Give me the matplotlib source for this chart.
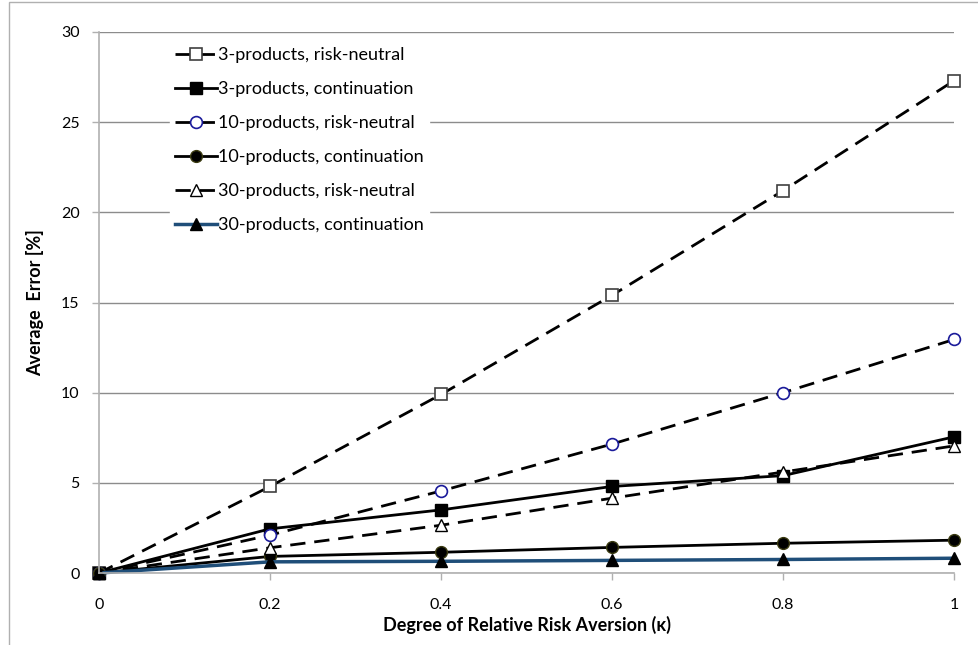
import matplotlib
matplotlib.use('Agg')
import matplotlib.pyplot as plt
from matplotlib.patches import Rectangle

plt.rcParams['font.family'] = ['Lato', 'DejaVu Sans']

kappa = [0, 0.2, 0.4, 0.6, 0.8, 1]
p3_rn = [0, 4.8, 9.9, 15.4, 21.2, 27.3]
p3_cont = [0, 2.45, 3.5, 4.8, 5.4, 7.55]
p10_rn = [0, 2.1, 4.55, 7.15, 10.0, 12.95]
p10_cont = [0, 0.92, 1.15, 1.42, 1.65, 1.82]
p30_rn = [0, 1.4, 2.65, 4.15, 5.6, 7.05]
p30_cont = [0, 0.62, 0.65, 0.7, 0.75, 0.82]

labels = ['3-products, risk-neutral', '3-products, continuation',
          '10-products, risk-neutral', '10-products, continuation',
          '30-products, risk-neutral', '30-products, continuation']

fig = plt.figure(figsize=(9.79, 6.45), dpi=100)
ax = fig.add_axes([0.1011, 0.1116, 0.9745 - 0.1011, 0.9504 - 0.1116])

# chart area border (grey frame)
fig.patches.append(Rectangle((9 / 979, -0.05), 1.2, 1 - 2 / 645 + 0.05, transform=fig.transFigure,
                             fill=False, edgecolor='#b0b0b0', linewidth=1.0))

dash = (0, (5.5, 3.2))
lw = 2.0
ms = 8.5
ax.plot(kappa, p3_rn, linestyle=dash, color='black', lw=lw, marker='s', ms=ms,
        mfc='white', mec='#404040', mew=1.2, label=labels[0])
ax.plot(kappa, p3_cont, linestyle='-', color='black', lw=lw, marker='s', ms=ms,
        mfc='black', mec='black', label=labels[1])
ax.plot(kappa, p10_rn, linestyle=dash, color='black', lw=lw, marker='o', ms=ms,
        mfc='white', mec='#1a1a9a', mew=1.2, label=labels[2])
ax.plot(kappa, p10_cont, linestyle='-', color='black', lw=lw, marker='o', ms=ms,
        mfc='black', mec='#3a3a10', label=labels[3])
ax.plot(kappa, p30_rn, linestyle=dash, color='black', lw=lw, marker='^', ms=ms,
        mfc='white', mec='black', mew=1.0, label=labels[4])
ax.plot(kappa, p30_cont, linestyle='-', color='#1f4e79', lw=lw + 0.5, marker='^', ms=ms,
        mfc='black', mec='black', label=labels[5])

ax.set_xlim(0, 1)
ax.set_ylim(0, 30)
ax.set_xticks(kappa)
ax.set_xticklabels(['0', '0.2', '0.4', '0.6', '0.8', '1'])
ax.set_yticks([0, 5, 10, 15, 20, 25, 30])

ax.yaxis.grid(True, color='#8c8c8c', linewidth=1.0)
ax.set_axisbelow(True)
for s in ['top', 'right']:
    ax.spines[s].set_visible(False)
for s in ['left', 'bottom']:
    ax.spines[s].set_color('#b0b0b0')
    ax.spines[s].set_linewidth(1.2)
ax.tick_params(axis='both', colors='#b0b0b0', labelcolor='black', labelsize=11.5,
               length=5, width=1.0)
ax.tick_params(axis='x', pad=13)
ax.tick_params(axis='y', pad=9)

ax.set_xlabel('Degree of Relative Risk Aversion (\u03ba)', fontsize=13, fontweight='bold', labelpad=3)
ax.set_ylabel('Average  Error [%]', fontsize=13, fontweight='bold', labelpad=12)

for line in ax.get_lines():
    line.set_clip_on(False)

leg = ax.legend(loc='upper left', bbox_to_anchor=(0.072, 0.999), frameon=True, fontsize=13,
                handlelength=2.3, handletextpad=0.1, labelspacing=1.0, borderpad=0.3)
leg.get_frame().set_edgecolor('white')
leg.get_frame().set_facecolor('white')
leg.get_frame().set_alpha(1)
leg.get_frame().set_boxstyle('square', pad=0)

plt.savefig('out.png', dpi=100)
